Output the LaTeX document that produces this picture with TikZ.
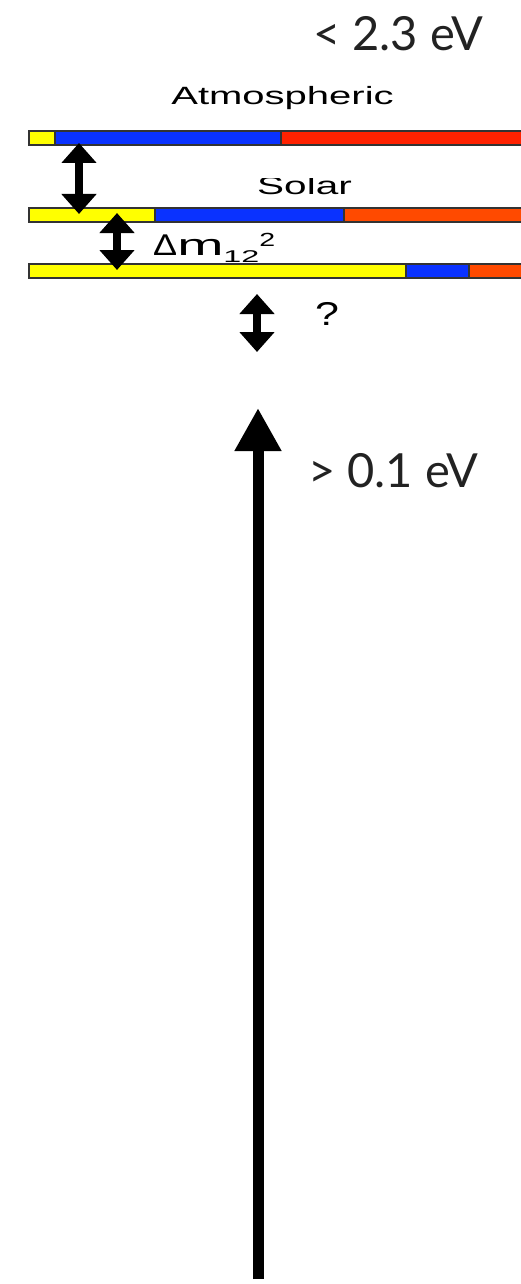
\documentclass[tikz,border=0pt]{standalone}
\usepackage{fontspec}
\setmainfont{Liberation Sans}
\newfontfamily\gillfont{Lato}
\usetikzlibrary{arrows.meta}
\definecolor{barY}{HTML}{FFFF00}
\definecolor{barB}{HTML}{0A32FF}
\definecolor{barR}{HTML}{FF2200}
\definecolor{barO}{HTML}{FF4A00}
\definecolor{txtgray}{HTML}{222222}
\tikzset{
  seg/.style={draw=black!80, line width=1.1pt},
  darrow/.style={line width=8pt, {Triangle[width=34pt,length=20pt]}-{Triangle[width=34pt,length=20pt]}},
  bigarrow/.style={line width=11pt, -{Triangle[width=44pt,length=43pt]}},
  evlabel/.style={anchor=base west, inner sep=0pt, text=txtgray, font=\gillfont\fontsize{47}{47}\selectfont},
  arial/.style={inner sep=0pt, font=\fontsize{25}{25}\selectfont},
}
\begin{document}
\begin{tikzpicture}[x=1pt,y=-1pt]
\useasboundingbox[fill=white] (0,0) rectangle (520,1284);
% energy labels
\node[evlabel] (top) at (313,51) {< 2.3 eV};
\node[evlabel] (bot) at (308,487) {> 0.1 eV};
% titles
\node[arial, anchor=base] (atm) at (282.5,105) {\scalebox{1.6}[1]{Atmospheric}};
\begin{scope}
  \clip (200,179) rectangle (400,205);
  \node[arial, anchor=base] (sol) at (304.5,195) {\scalebox{1.62}[1]{Solar}};
\end{scope}
% bar 1
\filldraw[seg, fill=barY] (29,131) rectangle (55,145);
\filldraw[seg, fill=barB] (55,131) rectangle (281,145);
\filldraw[seg, fill=barR] (281,131) rectangle (526,145);
% bar 2
\filldraw[seg, fill=barY] (29,208) rectangle (155,222);
\filldraw[seg, fill=barB] (155,208) rectangle (344,222);
\filldraw[seg, fill=barO] (344,208) rectangle (526,222);
% bar 3
\filldraw[seg, fill=barY] (29,264) rectangle (406,278);
\filldraw[seg, fill=barB] (406,264) rectangle (469,278);
\filldraw[seg, fill=barO] (469,264) rectangle (526,278);
% delta label
\node[inner sep=0pt, anchor=base west] (dm) at (153,255)
  {\fontsize{30}{30}\selectfont\scalebox{1.2}[1]{Δ}\scalebox{1.85}[1]{m}\raisebox{-7pt}{\fontsize{17}{17}\selectfont\scalebox{1.9}[1]{12}}\raisebox{9pt}{\fontsize{19}{19}\selectfont\scalebox{1.5}[1]{2}}};
% question mark
\node[inner sep=0pt, anchor=base] (q) at (327,325) {\fontsize{33}{33}\selectfont\scalebox{1.3}[1]{?}};
% arrows
\coordinate (a1t) at (79,143);
\coordinate (a1b) at (79,214);
\coordinate (a2t) at (117,213);
\coordinate (a2b) at (117,270);
\coordinate (a3t) at (257,294);
\coordinate (a3b) at (257,352);
\coordinate (bt) at (258,408);
\coordinate (bb) at (258,1279);
\draw[darrow] (a1t) -- (a1b);
\draw[darrow] (a2t) -- (a2b);
\draw[darrow] (a3t) -- (a3b);
\draw[bigarrow] (bb) -- (bt);
\end{tikzpicture}
\end{document}
